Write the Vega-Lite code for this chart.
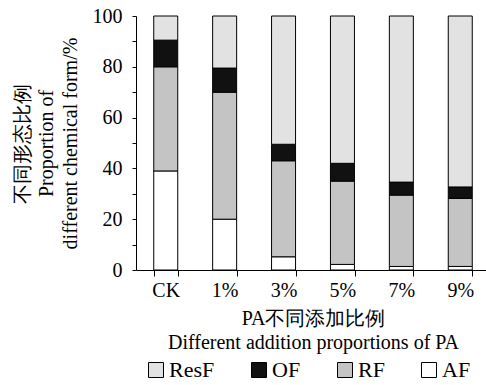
{
  "$schema": "https://vega.github.io/schema/vega-lite/v6.json",
  "width": 354,
  "height": 254,
  "autosize": {"type": "none"},
  "padding": {"left": 136, "top": 16, "right": 0, "bottom": 115},
  "background": "white",
  "config": {
    "font": "Liberation Serif",
    "view": {"stroke": null},
    "axis": {"grid": false, "domainColor": "black", "tickColor": "black", "labelColor": "black", "titleColor": "black", "labelFont": "Liberation Serif", "titleFont": "Liberation Serif", "labelFontSize": 20, "titleFontSize": 20, "titleFontWeight": "normal", "domainWidth": 1, "tickWidth": 1}
  },
  "data": {
    "values": [
      {"group": "CK", "form": "AF", "value": 39},
      {"group": "CK", "form": "RF", "value": 41},
      {"group": "CK", "form": "OF", "value": 10.5},
      {"group": "CK", "form": "ResF", "value": 9.5},
      {"group": "1%", "form": "AF", "value": 20},
      {"group": "1%", "form": "RF", "value": 50},
      {"group": "1%", "form": "OF", "value": 9.5},
      {"group": "1%", "form": "ResF", "value": 20.5},
      {"group": "3%", "form": "AF", "value": 5.2},
      {"group": "3%", "form": "RF", "value": 37.8},
      {"group": "3%", "form": "OF", "value": 6.5},
      {"group": "3%", "form": "ResF", "value": 50.5},
      {"group": "5%", "form": "AF", "value": 2.2},
      {"group": "5%", "form": "RF", "value": 32.8},
      {"group": "5%", "form": "OF", "value": 7},
      {"group": "5%", "form": "ResF", "value": 58},
      {"group": "7%", "form": "AF", "value": 1.4},
      {"group": "7%", "form": "RF", "value": 28.1},
      {"group": "7%", "form": "OF", "value": 5.1},
      {"group": "7%", "form": "ResF", "value": 65.4},
      {"group": "9%", "form": "AF", "value": 1.4},
      {"group": "9%", "form": "RF", "value": 26.8},
      {"group": "9%", "form": "OF", "value": 4.5},
      {"group": "9%", "form": "ResF", "value": 67.3}
    ]
  },
  "transform": [
    {"calculate": "indexof(['AF','RF','OF','ResF'], datum.form)", "as": "stackOrder"}
  ],
  "mark": {"type": "bar", "stroke": "black", "strokeWidth": 1, "width": 24},
  "encoding": {
    "x": {
      "field": "group", "type": "nominal",
      "sort": ["CK", "1%", "3%", "5%", "7%", "9%"],
      "scale": {"paddingInner": 0.59, "paddingOuter": 0.3},
      "axis": {
        "labelAngle": 0, "tickBand": "extent", "tickSize": 6, "labelPadding": 4,
        "title": ["PA不同添加比例", "Different addition proportions of PA"],
        "titleLineHeight": 24, "titlePadding": 8
      }
    },
    "y": {
      "field": "value", "type": "quantitative", "stack": "zero",
      "scale": {"domain": [0, 100], "nice": false},
      "axis": {
        "values": [0, 10, 20, 30, 40, 50, 60, 70, 80, 90, 100],
        "labelExpr": "datum.value % 20 == 0 ? datum.label : ''",
        "tickSize": 4, "labelPadding": 10,
        "title": ["不同形态比例", "Proportion of", "different chemical form/%"],
        "titleLineHeight": 24, "titlePadding": 12
      }
    },
    "order": {"field": "stackOrder", "type": "quantitative"},
    "fill": {
      "field": "form", "type": "nominal",
      "scale": {"domain": ["ResF", "OF", "RF", "AF"], "range": ["#e2e2e2", "#111111", "#c4c4c4", "#ffffff"]},
      "legend": {
        "title": null, "orient": "none", "legendX": 9, "legendY": 343, "direction": "horizontal",
        "symbolType": "square", "symbolSize": 225, "symbolStrokeColor": "black", "symbolStrokeWidth": 1,
        "labelFontSize": 22, "labelFont": "Liberation Serif", "labelColor": "black",
        "columnPadding": 33, "labelOffset": 2
      }
    }
  }
}
